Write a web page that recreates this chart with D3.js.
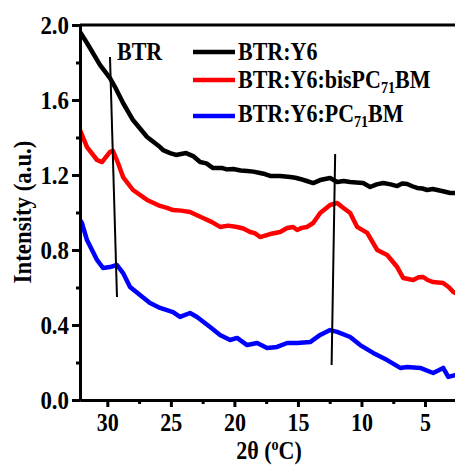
<!DOCTYPE html>
<html>
<head>
<meta charset="utf-8">
<script src="https://cdn.jsdelivr.net/npm/d3@7"></script>
<style>
  body { margin: 0; background: #fff; }
  text { font-family: "Liberation Serif", "Times New Roman", serif; font-weight: bold; fill: #000; }
</style>
</head>
<body>
<script>
// chart size
var svgWidth = 455;
var svgHeight = 465;

var chartMargin = { top: 25, right: 0, bottom: 65, left: 80 };
var chartWidth = svgWidth - chartMargin.left - chartMargin.right;
var chartHeight = svgHeight - chartMargin.top - chartMargin.bottom;

// the original lettering is narrow, squeeze it a bit
var squeeze = 0.88;

// data: [2theta, intensity]
var btrY6 = [
  [32.15, 1.963], [31.60, 1.904], [30.58, 1.787], [29.79, 1.717], [29.39, 1.669],
  [28.76, 1.584], [27.98, 1.493], [26.87, 1.403], [25.85, 1.349], [25.61, 1.333],
  [25.06, 1.317], [24.59, 1.307], [24.20, 1.312], [23.80, 1.317], [23.25, 1.301],
  [22.70, 1.269], [22.20, 1.262], [21.68, 1.237], [21.00, 1.238], [20.60, 1.230],
  [20.10, 1.232], [19.50, 1.224], [19.00, 1.221], [18.50, 1.218], [17.98, 1.211],
  [17.60, 1.205], [17.19, 1.195], [16.40, 1.195], [15.61, 1.189], [15.20, 1.185],
  [14.83, 1.179], [14.30, 1.168], [13.80, 1.157], [13.25, 1.173], [12.47, 1.184],
  [11.91, 1.163], [11.40, 1.168], [10.89, 1.163], [10.40, 1.160], [9.87, 1.157],
  [9.32, 1.136], [8.80, 1.150], [8.29, 1.157], [7.70, 1.150], [7.19, 1.141],
  [6.80, 1.155], [6.40, 1.152], [6.00, 1.140], [5.62, 1.131], [5.20, 1.128],
  [4.83, 1.120], [4.40, 1.125], [4.04, 1.120], [3.50, 1.112], [3.02, 1.104], [2.62, 1.104]
];

var btrY6Bis = [
  [32.15, 1.440], [31.60, 1.349], [30.81, 1.280], [30.42, 1.269], [29.79, 1.323],
  [29.55, 1.328], [29.16, 1.264], [28.76, 1.189], [27.98, 1.120], [26.87, 1.067],
  [25.85, 1.035], [25.30, 1.025], [24.83, 1.013], [24.20, 1.010], [23.49, 1.003],
  [22.47, 0.971], [21.80, 0.950], [21.13, 0.923], [20.50, 0.930], [19.79, 0.923],
  [19.30, 0.915], [18.76, 0.896], [18.40, 0.890], [17.98, 0.869], [17.19, 0.885],
  [16.40, 0.896], [15.85, 0.917], [15.38, 0.923], [15.06, 0.907], [14.70, 0.918],
  [14.28, 0.923], [13.80, 0.944], [13.25, 0.997], [12.47, 1.040], [11.91, 1.051],
  [11.52, 1.029], [10.89, 0.997], [10.34, 0.923], [9.55, 0.891], [8.76, 0.800],
  [7.98, 0.773], [7.19, 0.709], [6.72, 0.651], [5.93, 0.640], [5.50, 0.655],
  [5.14, 0.656], [4.80, 0.640], [4.36, 0.629], [3.57, 0.624], [3.10, 0.600],
  [2.78, 0.576], [2.62, 0.571]
];

var btrY6Pc = [
  [32.15, 0.960], [32.00, 0.944], [31.60, 0.853], [30.81, 0.747], [30.34, 0.704],
  [29.79, 0.709], [29.24, 0.720], [28.76, 0.677], [28.21, 0.603], [27.43, 0.560],
  [26.64, 0.517], [25.85, 0.491], [24.83, 0.469], [24.28, 0.443], [23.49, 0.464],
  [22.94, 0.443], [21.91, 0.389], [21.13, 0.347], [20.34, 0.320], [19.79, 0.331],
  [19.00, 0.293], [18.21, 0.304], [17.43, 0.277], [16.64, 0.283], [15.85, 0.304],
  [15.06, 0.304], [14.04, 0.309], [13.25, 0.347], [12.47, 0.373], [11.91, 0.363],
  [10.89, 0.336], [10.10, 0.293], [9.08, 0.251], [7.98, 0.213], [6.95, 0.171],
  [6.40, 0.176], [5.38, 0.171], [4.36, 0.144], [3.57, 0.171], [3.17, 0.123], [2.62, 0.133]
];

var seriesNames = ["BTR:Y6", "BTR:Y6:bisPC71BM", "BTR:Y6:PC71BM"];
var seriesColors = ["#000000", "#ff0000", "#0000ff"];
var seriesData = [btrY6, btrY6Bis, btrY6Pc];

var xTicks = [30, 25, 20, 15, 10, 5];
var xMinorTicks = [27.5, 22.5, 17.5, 12.5, 7.5];
var yTicks = [0, 0.4, 0.8, 1.2, 1.6, 2.0];
var yMinorTicks = [0.2, 0.6, 1.0, 1.4, 1.8];

// marker lines through the peaks: [[x1, y1], [x2, y2]]
var markerLines = [
  [[29.79, 1.829], [29.24, 0.549]],
  [[12.07, 1.312], [12.35, 0.187]]
];

var svg = d3.select("body")
  .append("svg")
  .attr("width", svgWidth)
  .attr("height", svgHeight);

var chartGroup = svg.append("g")
  .attr("transform", `translate(${chartMargin.left}, ${chartMargin.top})`);

var xScale = d3.scaleLinear()
  .domain([32.15, 2.64])
  .range([0, chartWidth]);

var yScale = d3.scaleLinear()
  .domain([0, 2])
  .range([chartHeight, 0]);

// clip so lines stay inside the frame
svg.append("defs").append("clipPath")
  .attr("id", "plotclip")
  .append("rect")
  .attr("x", 0).attr("y", -3)
  .attr("width", chartWidth).attr("height", chartHeight + 3);

var line = d3.line()
  .x(d => xScale(d[0]))
  .y(d => yScale(d[1]));

var plot = chartGroup.append("g").attr("clip-path", "url(#plotclip)");

seriesData.forEach(function(data, i) {
  plot.append("path")
    .datum(data)
    .attr("d", line)
    .attr("fill", "none")
    .attr("stroke", seriesColors[i])
    .attr("stroke-width", 4.5)
    .attr("stroke-linejoin", "round")
    .attr("stroke-linecap", "round");
});

// slanted marker lines
chartGroup.selectAll(".marker")
  .data(markerLines)
  .enter()
  .append("line")
  .attr("x1", d => xScale(d[0][0]))
  .attr("y1", d => yScale(d[0][1]))
  .attr("x2", d => xScale(d[1][0]))
  .attr("y2", d => yScale(d[1][1]))
  .attr("stroke", "#000")
  .attr("stroke-width", 2);

// axes
var leftAxis = d3.axisLeft(yScale).tickValues(yTicks).tickFormat(d3.format(".1f")).tickSize(8).tickSizeOuter(0);
var leftMinor = d3.axisLeft(yScale).tickValues(yMinorTicks).tickFormat("").tickSize(4).tickSizeOuter(0);
var bottomAxis = d3.axisBottom(xScale).tickValues(xTicks).tickFormat(d3.format("d")).tickSize(7).tickSizeOuter(0);
var bottomMinor = d3.axisBottom(xScale).tickValues(xMinorTicks).tickFormat("").tickSize(4).tickSizeOuter(0);

var yAxisG = chartGroup.append("g").call(leftAxis);
chartGroup.append("g").call(leftMinor);
var xAxisG = chartGroup.append("g")
  .attr("transform", `translate(0, ${chartHeight})`)
  .call(bottomAxis);
chartGroup.append("g")
  .attr("transform", `translate(0, ${chartHeight})`)
  .call(bottomMinor);

chartGroup.selectAll(".domain").attr("stroke", "#000").attr("stroke-width", 3);
chartGroup.selectAll(".tick line").attr("stroke", "#000").attr("stroke-width", 3);

yAxisG.selectAll(".tick text")
  .attr("x", null)
  .attr("dy", "0.34em")
  .attr("transform", `translate(-11, 0) scale(${squeeze}, 1)`)
  .attr("font-size", 26)
  .attr("font-family", "Liberation Serif")
  .attr("font-weight", "bold")
  .attr("fill", "#000");

xAxisG.selectAll(".tick text")
  .attr("y", null)
  .attr("dy", null)
  .attr("transform", `translate(0, 31) scale(${squeeze}, 1)`)
  .attr("font-size", 25)
  .attr("font-family", "Liberation Serif")
  .attr("font-weight", "bold")
  .attr("fill", "#000");

// top frame line
chartGroup.append("line")
  .attr("x1", 0).attr("x2", chartWidth)
  .attr("y1", 0).attr("y2", 0)
  .attr("stroke", "#000").attr("stroke-width", 3);

// axis titles
svg.append("text")
  .attr("transform", `translate(31, 212) rotate(-90) scale(${squeeze}, 1)`)
  .attr("text-anchor", "middle")
  .attr("font-size", 26)
  .text("Intensity (a.u.)");

var xTitle = svg.append("text")
  .attr("transform", `translate(269, 459) scale(${squeeze}, 1)`)
  .attr("text-anchor", "middle")
  .attr("font-size", 25);
xTitle.append("tspan").text("2\u03B8  (");
xTitle.append("tspan").attr("font-size", 16).attr("dy", -9).text("o");
xTitle.append("tspan").attr("dy", 9).text("C)");

// label for the BTR peak
svg.append("text")
  .attr("transform", `translate(117, 60) scale(${squeeze}, 1)`)
  .attr("font-size", 25)
  .text("BTR");

// legend
var legendY = [52, 80, 116];
var legendBase = [60, 88, 122];
seriesNames.forEach(function(name, i) {
  svg.append("line")
    .attr("x1", 193).attr("x2", 235)
    .attr("y1", legendY[i]).attr("y2", legendY[i])
    .attr("stroke", seriesColors[i])
    .attr("stroke-width", 4.5);
  var t = svg.append("text")
    .attr("transform", `translate(238, ${legendBase[i]}) scale(${squeeze}, 1)`)
    .attr("font-size", 25);
  var m = name.match(/^(.*PC)(71)(BM)$/);
  if (m) {
    t.append("tspan").text(m[1]);
    t.append("tspan").attr("font-size", 16).attr("dy", 5).text(m[2]);
    t.append("tspan").attr("dy", -5).text(m[3]);
  } else {
    t.text(name);
  }
});
</script>
</body>
</html>
